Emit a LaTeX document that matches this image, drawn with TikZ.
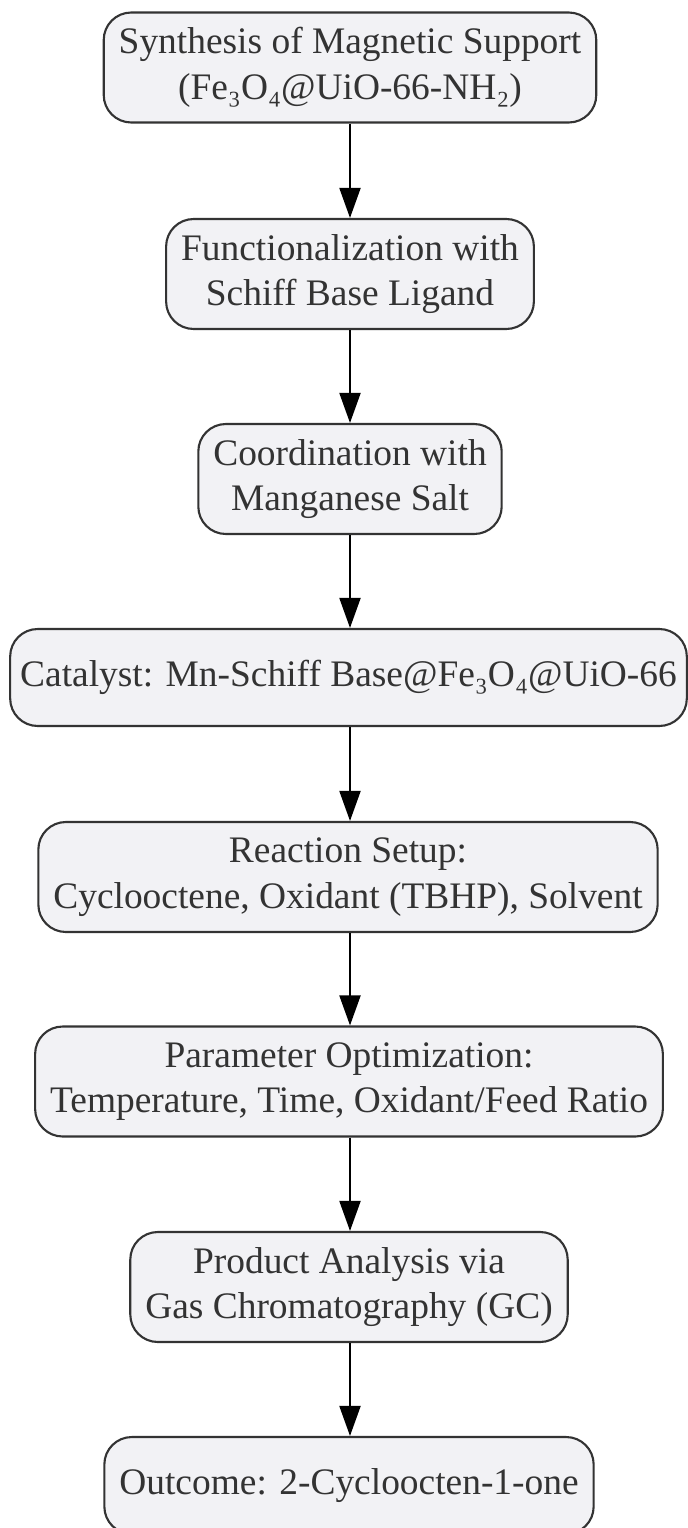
\documentclass[tikz,border=0pt]{standalone}
\usepackage{fontspec}
\setmainfont{Liberation Serif}
\usetikzlibrary{arrows.meta}
\tikzset {>={Triangle[length=0.6cm,width=0.42cm]}}
\definecolor{boxfill}{RGB}{242,242,245}
\definecolor{boxline}{RGB}{51,51,51}
\definecolor{boxtext}{RGB}{51,51,51}

\begin{document}
\begin{tikzpicture}[x=0.02cm,y=-0.02cm,
  stage/.style={draw=boxline,fill=boxfill,line width=1.2pt,rounded corners=0.55cm,
    align=center,text=boxtext,font=\fontsize{21.3}{26}\selectfont,
    inner xsep=0.3cm,minimum height=2.2cm},
  oneline/.style={stage,minimum height=1.94cm}]
\useasboundingbox (0,0) rectangle (687,1528);

\node[stage] (synth) at (350,67.5) {Synthesis of Magnetic Support\\(Fe₃O₄@UiO-66-NH₂)};
\node[stage] (func) at (350,274) {Functionalization with\\Schiff Base Ligand};
\node[stage] (coord) at (350,479) {Coordination with\\Manganese Salt};
\node[oneline,inner xsep=0.2cm] (cat) at (348.5,677.5) {Catalyst: Mn-Schiff Base@Fe₃O₄@UiO-66};
\node[stage] (setup) at (348,877) {Reaction Setup:\\Cyclooctene, Oxidant (TBHP), Solvent};
\node[stage] (opt) at (349,1081.5) {Parameter Optimization:\\Temperature, Time, Oxidant/Feed Ratio};
\node[stage] (gc) at (349,1287) {Product Analysis via\\Gas Chromatography (GC)};
\node[oneline] (out) at (349,1485.5) {Outcome: 2-Cycloocten-1-one};

\foreach \a/\b in {synth/func,func/coord,coord/cat,cat/setup,setup/opt,opt/gc,gc/out}
  \draw[->,line width=1.1pt] (\a.south -| synth) -- (\b.north -| synth);
\end{tikzpicture}
\end{document}
